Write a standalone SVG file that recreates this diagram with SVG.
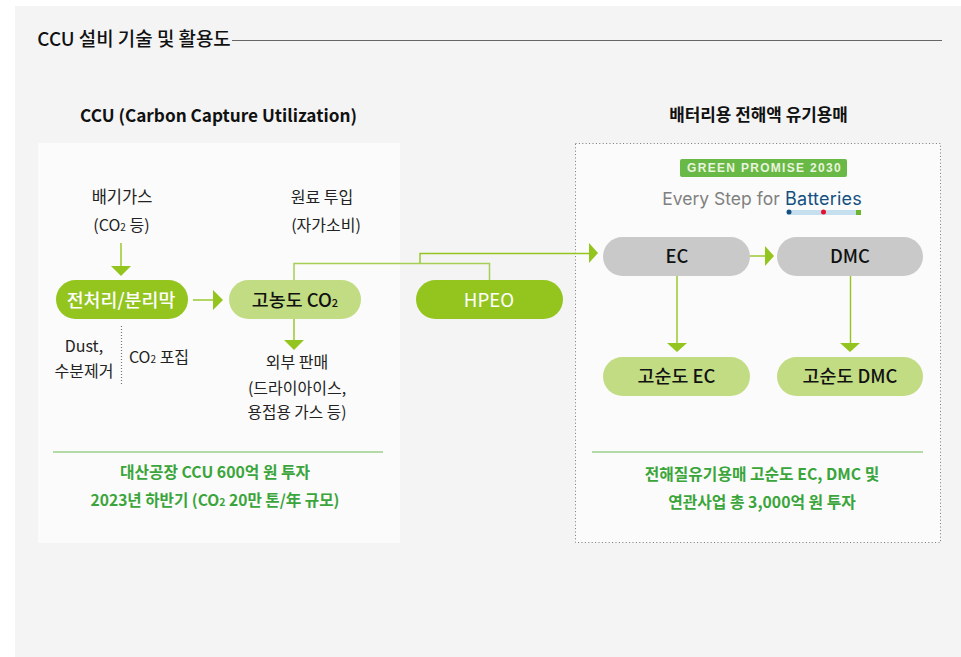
<svg xmlns="http://www.w3.org/2000/svg" width="961" height="657" viewBox="0 0 961 657">
<style>
text{font-family:"Noto Sans CJK KR","Noto Sans",sans-serif;text-anchor:middle;fill:#111}
.t{font-size:16px;fill:#222}
.n{font-size:18.4px;font-weight:500}
.h{font-size:17.2px;font-weight:700}
.g{font-size:15.8px;font-weight:700;fill:#3aa53a}
.c{fill:none;stroke:#94c51f;stroke-width:1.4}
.l{fill:none;stroke:#a6cf55;stroke-width:1.5}
.a{fill:#94c51f}
.pill1{fill:#94c51f}.pill2{fill:#c2dc84}.pill3{fill:#c8c9c8}
</style>
<rect x="15" y="6" width="946" height="651" fill="#f4f4f4"/>
<g id="title">
<text x="134" y="46" style="font-size:18.9px;font-weight:500">CCU 설비 기술 및 활용도</text>
<line x1="232" y1="40.500" x2="942" y2="40.500" stroke="#666" stroke-width="1"/>
</g>
<g id="panel-ccu">
<text x="218.500" y="121.500" class="h">CCU (Carbon Capture Utilization)</text>
<rect x="38" y="143" width="362" height="400" fill="#fbfbfb"/>
<text x="122" y="203" class="t" style="font-size:16.500px">배기가스</text>
<text x="121.500" y="231" class="t">(CO<tspan font-size="10">2</tspan> 등)</text>
<text x="322" y="203" class="t">원료 투입</text>
<text x="326" y="231" class="t">(자가소비)</text>
<text x="84" y="352" class="t">Dust,</text>
<text x="84" y="377" class="t">수분제거</text>
<text x="159" y="363" class="t">CO<tspan font-size="10">2</tspan> 포집</text>
<text x="297" y="368" class="t">외부 판매</text>
<text x="297" y="394" class="t">(드라이아이스,</text>
<text x="297" y="418" class="t" style="font-size:15.700px">용접용 가스 등)</text>
<line x1="53" y1="452" x2="383" y2="452" stroke="#9ccf8c" stroke-width="1.6"/>
<text x="215" y="478" class="g">대산공장 CCU 600억 원 투자</text>
<text x="215" y="506" class="g" style="font-size:15.600px">2023년 하반기 (CO<tspan font-size="10.500">2</tspan> 20만 톤/年 규모)</text>
</g>
<g id="panel-battery">
<text x="758.500" y="121" class="h" style="font-size:16.9px">배터리용 전해액 유기용매</text>
<rect x="575.500" y="143.500" width="365" height="399" fill="#fbfbfb" stroke="#777" stroke-width="1" stroke-dasharray="1 2.400"/>
<rect x="680" y="159" width="167" height="18" rx="2" fill="#68b945"/>
<text x="764.500" y="172" style="font-family:'Liberation Sans',sans-serif;font-size:12px;font-weight:700;letter-spacing:1.3px;fill:#e8f4df">GREEN PROMISE 2030</text>
<text x="721" y="205" style="font-family:'Inter',sans-serif;font-size:17.500px;fill:#808080">Every Step for</text>
<text x="823.500" y="205" style="font-family:'Inter',sans-serif;font-size:18px;letter-spacing:.2px;fill:#13507f">Batteries</text>
<rect x="787" y="210" width="74" height="5" fill="#c5dfef"/>
<circle cx="789" cy="212" r="2.500" fill="#13507f"/>
<circle cx="823.500" cy="212" r="2.500" fill="#e60f2d"/>
<rect x="856" y="210" width="5" height="5" fill="#6cb52d"/>
<line x1="592" y1="452" x2="923" y2="452" stroke="#9ccf8c" stroke-width="1.6"/>
<text x="762" y="480" class="g">전해질유기용매 고순도 EC, DMC 및</text>
<text x="762" y="508" class="g">연관사업 총 3,000억 원 투자</text>
</g>
<g id="connectors">
<path class="c" d="M121 243V269"/><path class="a" d="M111 266H131L121 276Z"/>
<path class="c" d="M193 300H215"/><path class="a" d="M213 290V310L223 300Z"/>
<path class="c" d="M294 319V340"/><path class="a" d="M284 340H304L294 350Z"/>
<path d="M121.500 326V384" fill="none" stroke="#777" stroke-width="1.200" stroke-dasharray="1 2"/>
<path class="l" d="M294 280V263.500H489.500V280"/>
<path class="c" d="M420 263V253.500H590"/><path class="a" d="M589 243V263L598 253Z"/>
<path class="c" d="M750 256H766"/><path class="a" d="M765 246V266L774 256Z"/>
<path class="c" d="M677 276V344"/><path class="a" d="M667 343H687L677 352Z"/>
<path class="c" d="M850.500 276V344"/><path class="a" d="M840 343H860L850 352Z"/>
</g>
<g id="node-pretreat"><rect x="56" y="280" width="132" height="39" rx="19.500" class="pill1"/><text x="121" y="306.500" class="n" style="fill:#fff">전처리/분리막</text></g>
<g id="node-co2"><rect x="229" y="280" width="132" height="39" rx="19.500" class="pill2"/><text x="295" y="306.500" class="n">고농도 CO<tspan font-size="11">2</tspan></text></g>
<g id="node-hpeo"><rect x="416" y="280" width="147" height="39" rx="19.500" class="pill1"/><text x="489" y="306.500" class="n" style="fill:#fff;font-weight:400;font-size:18.700px">HPEO</text></g>
<g id="node-ec"><rect x="603" y="237" width="147" height="39" rx="19.500" class="pill3"/><text x="677" y="263" class="n">EC</text></g>
<g id="node-dmc"><rect x="777" y="237" width="146" height="39" rx="19.500" class="pill3"/><text x="850" y="263" class="n">DMC</text></g>
<g id="node-hec"><rect x="603" y="357" width="147" height="39" rx="19.500" class="pill2"/><text x="676.500" y="383" class="n">고순도 EC</text></g>
<g id="node-hdmc"><rect x="777" y="357" width="146" height="39" rx="19.500" class="pill2"/><text x="850" y="383" class="n">고순도 DMC</text></g>
</svg>
